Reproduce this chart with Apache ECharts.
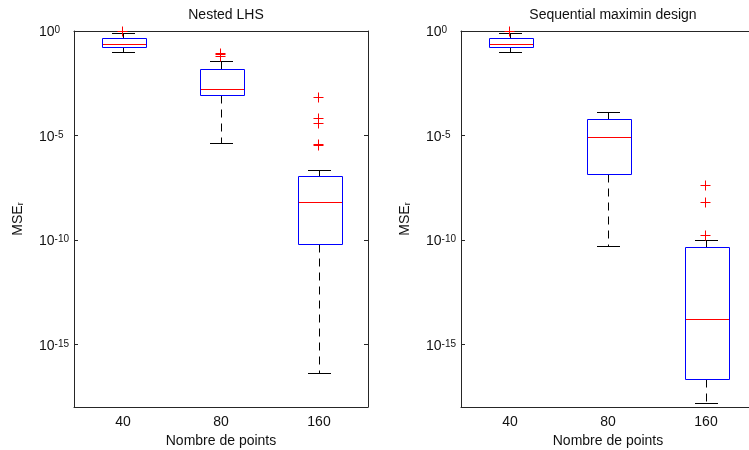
<!DOCTYPE html>
<html><head><meta charset="utf-8">
<script src="https://cdn.jsdelivr.net/npm/echarts@6/dist/echarts.min.js"></script>
<style>html,body{margin:0;padding:0;background:#fff}#c{width:749px;height:450px}</style>
</head><body><div id="c"></div>
<script>
// ---- data ----
const categories = ['40', '80', '160'];
const titles = ['Nested LHS', 'Sequential maximin design'];
const xName = 'Nombre de points';
const yTickValues = [1e-15, 1e-10, 1e-5, 1];
// each box: [lower whisker, Q1, median, Q3, upper whisker]
const lhsBoxes = [
  [0.1, 0.166, 0.24, 0.447, 0.832],
  [4.5e-6, 9.1e-4, 1.7e-3, 1.48e-2, 3.5e-2],
  [4.4e-17, 6.5e-11, 6.6e-9, 1.1e-7, 2.2e-7]
];
const lhsOutliers = [
  [0, 1.0],
  [1, 0.092], [1, 0.078], [1, 0.066],
  [2, 7.2e-4], [2, 6.8e-5], [2, 3.9e-5], [2, 3.9e-6], [2, 3.4e-6]
];
const maximinBoxes = [
  [0.1, 0.166, 0.24, 0.447, 0.832],
  [4.9e-11, 1.35e-7, 8.3e-6, 5.8e-5, 1.35e-4],
  [1.6e-18, 2.3e-17, 1.6e-14, 4.5e-11, 1.0e-10]
];
const maximinOutliers = [
  [0, 1.0],
  [2, 4.4e-8], [2, 6.8e-9], [2, 1.66e-10]
];

// ---- styling / layout ----
const FONT = 'Liberation Sans, Arial, sans-serif';
const AX = '#262626';
const TXT = '#111';
const grids = [
  { left: 74, top: 31, width: 294, height: 376, outerBoundsMode: 'none', containLabel: false },
  { left: 461, top: 31, width: 294, height: 376, outerBoundsMode: 'none', containLabel: false }
];

function px(v) { return Math.round(v) + 0.5; }

function renderBox(params, api) {
  const x = api.value(0);
  const band = api.size([1, 1], [x, 1])[0];
  const cx = px(api.coord([x, api.value(3)])[0] - 0.5);
  const yLow = px(api.coord([x, api.value(1)])[1]);
  const yQ1 = px(api.coord([x, api.value(2)])[1]);
  const yMed = px(api.coord([x, api.value(3)])[1]);
  const yQ3 = px(api.coord([x, api.value(4)])[1]);
  const yHigh = px(api.coord([x, api.value(5)])[1]);
  const bw = Math.round(band * 0.45);
  const cw = Math.round(band * 0.235);
  const bl = Math.round(cx - bw / 2) + 0.5;
  const cl = Math.round(cx - cw / 2);
  const dash = { stroke: '#000', lineWidth: 1, lineDash: [8, 6] };
  const solid = { stroke: '#000', lineWidth: 1 };
  return {
    type: 'group',
    children: [
      { type: 'line', shape: { x1: cx, y1: yQ3, x2: cx, y2: yHigh }, style: dash },
      { type: 'line', shape: { x1: cx, y1: yQ1, x2: cx, y2: yLow }, style: dash },
      { type: 'line', shape: { x1: cl, y1: yHigh, x2: cl + cw, y2: yHigh }, style: solid },
      { type: 'line', shape: { x1: cl, y1: yLow, x2: cl + cw, y2: yLow }, style: solid },
      { type: 'rect', shape: { x: bl, y: yQ3, width: bw, height: yQ1 - yQ3 },
        style: { stroke: '#0000ff', fill: 'none', lineWidth: 1 } },
      { type: 'line', shape: { x1: bl + 0.5, y1: yMed, x2: bl + bw - 0.5, y2: yMed },
        style: { stroke: '#ff0000', lineWidth: 1 } }
    ]
  };
}

function renderPlus(params, api) {
  const p = api.coord([api.value(0), api.value(1)]);
  const cx = Math.round(p[0]) - 0.5, cy = Math.round(p[1]) + 0.5;
  const h = 5;
  const st = { stroke: '#ff0000', lineWidth: 1 };
  return {
    type: 'group',
    children: [
      { type: 'line', shape: { x1: cx - h, y1: cy, x2: cx + h, y2: cy }, style: st },
      { type: 'line', shape: { x1: cx, y1: cy - h, x2: cx, y2: cy + h }, style: st }
    ]
  };
}

function yLabel(v) {
  const e = Math.round(Math.log10(v));
  return '{b|10}{s|' + e + '}';
}

const xAxes = [], yAxes = [], series = [], titleList = [];
[0, 1].forEach(function (g) {
  xAxes.push({
    type: 'category', gridIndex: g, data: categories, position: 'bottom',
    name: xName, nameLocation: 'middle', nameGap: 13,
    nameTextStyle: { fontFamily: FONT, fontSize: 14, color: TXT },
    axisLine: { lineStyle: { color: AX } },
    axisTick: { inside: true, alignWithLabel: true, length: 4, lineStyle: { color: AX } },
    axisLabel: { fontFamily: FONT, fontSize: 14, color: TXT, margin: 8 },
    splitLine: { show: false }
  });
  xAxes.push({
    type: 'category', gridIndex: g, data: categories, position: 'top',
    axisLine: { lineStyle: { color: AX } },
    axisTick: { inside: true, alignWithLabel: true, length: 4, lineStyle: { color: AX } },
    axisLabel: { show: false }, splitLine: { show: false }
  });
  yAxes.push({
    type: 'log', logBase: 10, gridIndex: g, min: 1e-18, max: 1, position: 'left',
    name: '{m|MSE}{r|r}', nameLocation: 'middle', nameRotate: 90, nameGap: 49,
    nameTextStyle: {
      rich: {
        m: { fontFamily: FONT, fontSize: 14, color: TXT, lineHeight: 14, verticalAlign: 'top' },
        r: { fontFamily: FONT, fontSize: 9, color: TXT, lineHeight: 9, verticalAlign: 'bottom', padding: [12, 0, 0, 0] }
      }
    },
    axisLine: { show: true, lineStyle: { color: AX } },
    axisTick: { show: true, inside: true, length: 4, customValues: yTickValues, lineStyle: { color: AX } },
    axisLabel: {
      customValues: yTickValues, formatter: yLabel, align: 'left', margin: 35,
      padding: [3, 0, 0, 0],
      rich: {
        b: { fontFamily: FONT, fontSize: 14, color: TXT, lineHeight: 14, verticalAlign: 'bottom' },
        s: { fontFamily: FONT, fontSize: 10, color: TXT, lineHeight: 10, verticalAlign: 'top', padding: [0, 0, 8, 0] }
      }
    },
    splitLine: { show: false }, minorTick: { show: false }
  });
  yAxes.push({
    type: 'log', logBase: 10, gridIndex: g, min: 1e-18, max: 1, position: 'right',
    axisLine: { show: true, lineStyle: { color: AX } },
    axisTick: { show: true, inside: true, length: 4, customValues: yTickValues, lineStyle: { color: AX } },
    axisLabel: { show: false, customValues: yTickValues },
    splitLine: { show: false }
  });
  titleList.push({
    text: titles[g], left: grids[g].left + grids[g].width / 2, top: 3, textAlign: 'center',
    textStyle: { fontFamily: FONT, fontSize: 14, fontWeight: 'normal', color: TXT }
  });
  const boxes = g === 0 ? lhsBoxes : maximinBoxes;
  const outs = g === 0 ? lhsOutliers : maximinOutliers;
  series.push({
    type: 'custom', xAxisIndex: g * 2, yAxisIndex: g * 2,
    data: boxes.map(function (b, i) { return [i].concat(b); }),
    encode: { x: 0, y: [1, 2, 3, 4, 5] },
    renderItem: renderBox, silent: true, animation: false
  });
  series.push({
    type: 'custom', xAxisIndex: g * 2, yAxisIndex: g * 2,
    data: outs, encode: { x: 0, y: 1 }, z: 3,
    renderItem: renderPlus, silent: true, animation: false
  });
});

const chart = echarts.init(document.getElementById('c'), null, { renderer: 'canvas' });
chart.setOption({
  backgroundColor: '#fff',
  animation: false,
  title: titleList,
  grid: grids,
  xAxis: xAxes,
  yAxis: yAxes,
  series: series
});
</script>
</body></html>
